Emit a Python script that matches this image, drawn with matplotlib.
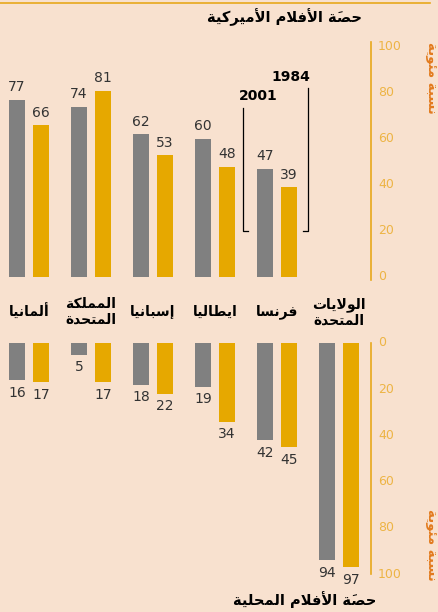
import matplotlib
matplotlib.use("Agg")
import matplotlib.pyplot as plt
import numpy as np

# ---------------- data ----------------
countries = ['ألمانيا', 'المملكة\nالمتحدة', 'إسبانيا', 'ايطاليا', 'فرنسا', 'الولايات\nالمتحدة']
us_share_2001 = [77, 74, 62, 60, 47]
us_share_1984 = [66, 81, 53, 48, 39]
local_share_2001 = [16, 5, 18, 19, 42, 94]
local_share_1984 = [17, 17, 22, 34, 45, 97]
year_labels = ['2001', '1984']
tick_values = [0, 20, 40, 60, 80, 100]
title_top = 'حصَة الأفلام الأميركية'
title_bottom = 'حصَة الأفلام المحلية'
axis_title = 'نسبة مئوية'

# ---------------- minimal Arabic shaping ----------------
FORMS = {  # iso, fin, ini, med
    'ا': ('\uFE8D', '\uFE8E', None, None),
    'أ': ('\uFE83', '\uFE84', None, None),
    'إ': ('\uFE87', '\uFE88', None, None),
    'آ': ('\uFE81', '\uFE82', None, None),
    'ب': ('\uFE8F', '\uFE90', '\uFE91', '\uFE92'),
    'ة': ('\uFE93', '\uFE94', None, None),
    'ت': ('\uFE95', '\uFE96', '\uFE97', '\uFE98'),
    'ح': ('\uFEA1', '\uFEA2', '\uFEA3', '\uFEA4'),
    'د': ('\uFEA9', '\uFEAA', None, None),
    'ر': ('\uFEAD', '\uFEAE', None, None),
    'س': ('\uFEB1', '\uFEB2', '\uFEB3', '\uFEB4'),
    'ص': ('\uFEB9', '\uFEBA', '\uFEBB', '\uFEBC'),
    'ط': ('\uFEC1', '\uFEC2', '\uFEC3', '\uFEC4'),
    'ف': ('\uFED1', '\uFED2', '\uFED3', '\uFED4'),
    'ك': ('\uFED9', '\uFEDA', '\uFEDB', '\uFEDC'),
    'ل': ('\uFEDD', '\uFEDE', '\uFEDF', '\uFEE0'),
    'م': ('\uFEE1', '\uFEE2', '\uFEE3', '\uFEE4'),
    'ن': ('\uFEE5', '\uFEE6', '\uFEE7', '\uFEE8'),
    'ه': ('\uFEE9', '\uFEEA', '\uFEEB', '\uFEEC'),
    'و': ('\uFEED', '\uFEEE', None, None),
    'ي': ('\uFEF1', '\uFEF2', '\uFEF3', '\uFEF4'),
    'ئ': ('\uFE89', '\uFE8A', '\uFE8B', '\uFE8C'),
    'LA': ('\uFEFB', '\uFEFC', None, None),
    'LAH': ('\uFEF7', '\uFEF8', None, None),
    'LAK': ('\uFEF9', '\uFEFA', None, None),
    'LAM': ('\uFEF5', '\uFEF6', None, None),
}
LIG = {'ا': 'LA', 'أ': 'LAH', 'إ': 'LAK', 'آ': 'LAM'}
MARKS = set('\u064B\u064C\u064D\u064E\u064F\u0650\u0651\u0652')


def shape_line(s):
    toks = []
    i = 0
    while i < len(s):
        c = s[i]
        if c in MARKS and toks:
            toks[-1][1] += c
        elif c == 'ل' and i + 1 < len(s) and s[i + 1] in LIG:
            toks.append([LIG[s[i + 1]], ''])
            i += 1
        else:
            toks.append([c, ''])
        i += 1
    out = []
    for j, (k, m) in enumerate(toks):
        if k not in FORMS:
            out.append(m + k)
            continue
        prev = toks[j - 1][0] if j > 0 else None
        nxt = toks[j + 1][0] if j + 1 < len(toks) else None
        jp = prev in FORMS and FORMS[prev][2] is not None
        jn = FORMS[k][2] is not None and nxt in FORMS
        iso, fin, ini, med = FORMS[k]
        if jp and jn:
            g = med
        elif jp:
            g = fin
        elif jn:
            g = ini
        else:
            g = iso
        # mark placed before base in visual order so it sits over the base
        out.append(m + g)
    return ''.join(reversed(out))


def ar(s):
    return '\n'.join(shape_line(l) for l in s.split('\n'))


# ---------------- style ----------------
BG = '#F8E1CF'
GRAY = '#808080'
ORANGE = '#E6A800'
AXIS = '#E8A81C'
TICKC = '#EDB445'
TITLEC = '#E27B1E'
NUMC = '#333333'
plt.rcParams['font.family'] = ['DejaVu Sans']

W, H = 439, 612
fig = plt.figure(figsize=(W / 100, H / 100), dpi=100, facecolor=BG)


def fx(x):
    return x / W


def fy(y):
    return 1 - y / H


x_left = -29 / 62
x_right = (W - 29) / 62
axis_x = (371 - 29) / 62
off, bw = 0.195, 0.27

ax1 = fig.add_axes([0, fy(277), 1, (277 - 47) / H])
ax1.set_xlim(x_left, x_right)
ax1.set_ylim(0, 100)
ax2 = fig.add_axes([0, fy(574), 1, (574 - 343) / H])
ax2.set_xlim(x_left, x_right)
ax2.set_ylim(100, 0)
for a in (ax1, ax2):
    a.set_facecolor('none')
    a.axis('off')

g_top = np.arange(len(us_share_2001))
g_all = np.arange(len(countries))

ax1.bar(g_top - off, us_share_2001, bw, color=GRAY)
ax1.bar(g_top + off, us_share_1984, bw, color=ORANGE)
for g, v in zip(g_top, us_share_2001):
    ax1.annotate(str(v), (g - off, v), xytext=(0, 4), textcoords='offset points',
                 ha='center', va='bottom', fontsize=10, color=NUMC)
for g, v in zip(g_top, us_share_1984):
    ax1.annotate(str(v), (g + off, v), xytext=(0, 4), textcoords='offset points',
                 ha='center', va='bottom', fontsize=10, color=NUMC)

ax2.bar(g_all - off, local_share_2001, bw, color=GRAY)
ax2.bar(g_all + off, local_share_1984, bw, color=ORANGE)
for g, v in zip(g_all, local_share_2001):
    ax2.annotate(str(v), (g - off, v), xytext=(0, -4), textcoords='offset points',
                 ha='center', va='top', fontsize=10, color=NUMC)
for g, v in zip(g_all, local_share_1984):
    ax2.annotate(str(v), (g + off, v), xytext=(0, -4), textcoords='offset points',
                 ha='center', va='top', fontsize=10, color=NUMC)

ax1.plot([axis_x, axis_x], [-1.5, 102], color=AXIS, lw=1.2, clip_on=False)
ax2.plot([axis_x, axis_x], [0, 100], color=AXIS, lw=1.2, clip_on=False)
for t in tick_values:
    ax1.annotate(str(t), (axis_x, t), xytext=(5, 0), textcoords='offset points',
                 ha='left', va='center', fontsize=9, color=TICKC)
    ax2.annotate(str(t), (axis_x, t), xytext=(5, 0), textcoords='offset points',
                 ha='left', va='center', fontsize=9, color=TICKC)

bx2001 = (243 - 29) / 62
bx1984 = (308 - 29) / 62
tick_len = 5 / 62
ax1.plot([bx2001 + tick_len, bx2001, bx2001], [20, 20, 73.5], color='black', lw=0.9, clip_on=False)
ax1.plot([bx1984 - tick_len, bx1984, bx1984], [20, 20, 82], color='black', lw=0.9, clip_on=False)
ax1.text(bx2001 + 0.25, 75.5, year_labels[0], ha='center', va='bottom', fontsize=10,
         fontweight='bold', color='black')
ax1.text(bx1984 - 0.28, 84, year_labels[1], ha='center', va='bottom', fontsize=10,
         fontweight='bold', color='black')

for g, name in zip(g_all, countries):
    fig.text(fx(29 + 62 * g), fy(312), ar(name), ha='center', va='center',
             fontsize=10, fontweight='bold', color='black', linespacing=1.15)

fig.add_artist(plt.Line2D([0, fx(430)], [fy(3), fy(3)], color=AXIS, lw=1.2))

fig.text(fx(285), fy(17), ar(title_top), ha='center', va='center', fontsize=10.5,
         fontweight='bold', color='black')
fig.text(fx(305), fy(600), ar(title_bottom), ha='center', va='center', fontsize=10.5,
         fontweight='bold', color='black')
fig.text(fx(432), fy(78), ar(axis_title), ha='center', va='center', rotation=-90,
         fontsize=9.5, fontweight='bold', color=TITLEC)
fig.text(fx(432), fy(545), ar(axis_title), ha='center', va='center', rotation=-90,
         fontsize=9.5, fontweight='bold', color=TITLEC)

fig.savefig('out.png', dpi=100, facecolor=BG)
